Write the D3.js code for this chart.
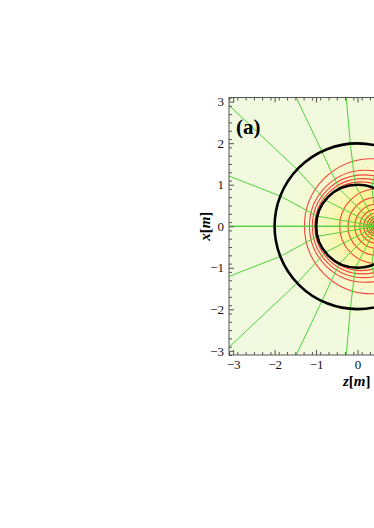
<!DOCTYPE html>
<html>
<head>
<meta charset="utf-8">
<script src="https://cdn.jsdelivr.net/npm/d3@7"></script>
<style>
  body { margin: 0; background: #fff; }
  svg { display: block; }
</style>
</head>
<body>
<div id="vis"></div>
<script>
// Data (all in metres)
const focusZ = 0.47;                       // source point on the z axis
const blackRadii = [1, 2];                 // boundary circles, centred at origin
// red contours: centre on z axis and radius
const redCenters = [0.35, 0.19, 0.15, 0.12, 0.09, 0.47, 0.47, 0.47, 0.47, 0.47, 0.47, 0.47, 0.47, 0.47, 0.47];
const redRadii   = [1.63, 1.35, 1.24, 1.15, 1.07, 0.90, 0.70, 0.535, 0.414, 0.32, 0.245, 0.19, 0.14, 0.10, 0.07];
// green field lines (upper half, mirrored below): angle outside r=2 and crossing angle on r=1, degrees
const outerAngles = [180, 158.7, 136.8, 115.5, 95.0, 73.5];
const midAngles   = [180, 166, 141, 116, 93, 70];
const majorTicks = [-3, -2, -1, 0, 1, 2, 3];
const minorTicks = d3.range(-31, 32, 2).map(d => d / 10);

const width = 374, height = 528;
const margin = { top: 97.5, right: -112, bottom: 355, left: 229 };

const svg = d3.select("#vis").append("svg")
  .attr("width", width)
  .attr("height", height);

const x = d3.scaleLinear().domain([-3.1, 3.1]).range([margin.left, width - margin.right]);
const y = d3.scaleLinear().domain([-3.1, 3.1]).range([margin.bottom, margin.top]);
const k = x(1) - x(0);

const defs = svg.append("defs");
defs.append("clipPath").attr("id", "plot")
  .append("rect")
  .attr("x", x(-3.1)).attr("y", y(3.1))
  .attr("width", x(3.1) - x(-3.1)).attr("height", y(-3.1) - y(3.1));

// background colour, brightest at the source
const grad = defs.append("radialGradient").attr("id", "bg")
  .attr("gradientUnits", "userSpaceOnUse")
  .attr("cx", x(focusZ)).attr("cy", y(0)).attr("r", 4 * k);
[[0, "#ffc830"], [0.03, "#ffe24c"], [0.1, "#fff17c"], [0.2, "#fdf59e"], [0.28, "#f9f7b8"],
 [0.4, "#f4f9cf"], [0.6, "#f1fadd"], [1, "#f1fae1"]]
  .forEach(s => grad.append("stop").attr("offset", s[0]).attr("stop-color", s[1]));

const plot = svg.append("g").attr("clip-path", "url(#plot)");

plot.append("rect")
  .attr("x", x(-3.1)).attr("y", y(3.1))
  .attr("width", x(3.1) - x(-3.1)).attr("height", y(-3.1) - y(3.1))
  .attr("fill", "url(#bg)");

// red contours
plot.selectAll(".red")
  .data(d3.zip(redCenters, redRadii))
  .enter().append("circle")
  .attr("class", "red")
  .attr("cx", d => x(d[0]))
  .attr("cy", y(0))
  .attr("r", d => x(d[1]) - x(0))
  .attr("fill", "none")
  .attr("stroke", "#f5302e")
  .attr("stroke-opacity", 0.9)
  .attr("stroke-width", 1.1);

// green field lines
const rad = a => a * Math.PI / 180;
const fieldLines = [];
outerAngles.forEach((a, i) => {
  [1, -1].forEach(s => {
    fieldLines.push([
      [6 * Math.cos(rad(a)), s * 6 * Math.sin(rad(a))],
      [2 * Math.cos(rad(a)), s * 2 * Math.sin(rad(a))],
      [Math.cos(rad(midAngles[i])), s * Math.sin(rad(midAngles[i]))],
      [focusZ, 0]
    ]);
  });
});
const line = d3.line().x(d => x(d[0])).y(d => y(d[1]));
plot.selectAll(".green")
  .data(fieldLines)
  .enter().append("path")
  .attr("class", "green")
  .attr("d", line)
  .attr("fill", "none")
  .attr("stroke", "#4fd13c")
  .attr("stroke-width", 1);

// black boundaries
plot.selectAll(".bound")
  .data(blackRadii)
  .enter().append("circle")
  .attr("class", "bound")
  .attr("cx", x(0)).attr("cy", y(0))
  .attr("r", d => x(d) - x(0))
  .attr("fill", "none")
  .attr("stroke", "#000")
  .attr("stroke-width", 2.6);

// frame + ticks (pointing inward)
const font = "'Liberation Serif', 'Times New Roman', serif";
const fmt = d => d < 0 ? "\u2212" + (-d) : String(d);
const visibleTicks = majorTicks.filter(d => x(d) + 6 < width);
function styleAxis(g) {
  g.select(".domain").remove();
  g.selectAll("line").attr("stroke", "#555");
  g.selectAll("text").style("font-family", font).style("font-size", "13px").attr("fill", "#111");
}
svg.append("g").attr("transform", `translate(0,${y(-3.1)})`)
  .call(d3.axisBottom(x).tickValues(minorTicks).tickSize(-3).tickFormat(""))
  .call(styleAxis);
svg.append("g").attr("transform", `translate(0,${y(-3.1)})`)
  .call(d3.axisBottom(x).tickValues(visibleTicks).tickSize(-5).tickPadding(5).tickFormat(fmt))
  .call(styleAxis);
svg.append("g").attr("transform", `translate(0,${y(3.1)})`)
  .call(d3.axisTop(x).tickValues(minorTicks).tickSize(-3).tickFormat(""))
  .call(styleAxis);
svg.append("g").attr("transform", `translate(0,${y(3.1)})`)
  .call(d3.axisTop(x).tickValues(majorTicks).tickSize(-5).tickFormat(""))
  .call(styleAxis);
svg.append("g").attr("transform", `translate(${x(-3.1)},0)`)
  .call(d3.axisLeft(y).tickValues(minorTicks).tickSize(-3).tickFormat(""))
  .call(styleAxis);
svg.append("g").attr("transform", `translate(${x(-3.1)},0)`)
  .call(d3.axisLeft(y).tickValues(majorTicks).tickSize(-5).tickPadding(5).tickFormat(fmt))
  .call(styleAxis);

svg.append("rect")
  .attr("x", x(-3.1)).attr("y", y(3.1))
  .attr("width", x(3.1) - x(-3.1)).attr("height", y(-3.1) - y(3.1))
  .attr("fill", "none").attr("stroke", "#555").attr("stroke-width", 1);

// labels
svg.append("text")
  .attr("x", 236).attr("y", 134)
  .style("font-family", font).attr("font-weight", "bold").attr("font-size", 21)
  .text("(a)");

const zl = svg.append("text")
  .attr("x", 343).attr("y", 386)
  .style("font-family", font).attr("font-weight", "bold").attr("font-size", 15);
zl.append("tspan").attr("font-style", "italic").text("z");
zl.append("tspan").text("[");
zl.append("tspan").attr("font-style", "italic").text("m");
zl.append("tspan").text("]");

const xl = svg.append("text")
  .attr("transform", `translate(210,${y(0)}) rotate(-90)`)
  .attr("text-anchor", "middle")
  .style("font-family", font).attr("font-weight", "bold").attr("font-size", 15);
xl.append("tspan").attr("font-style", "italic").text("x");
xl.append("tspan").text("[");
xl.append("tspan").attr("font-style", "italic").text("m");
xl.append("tspan").text("]");
</script>
</body>
</html>
